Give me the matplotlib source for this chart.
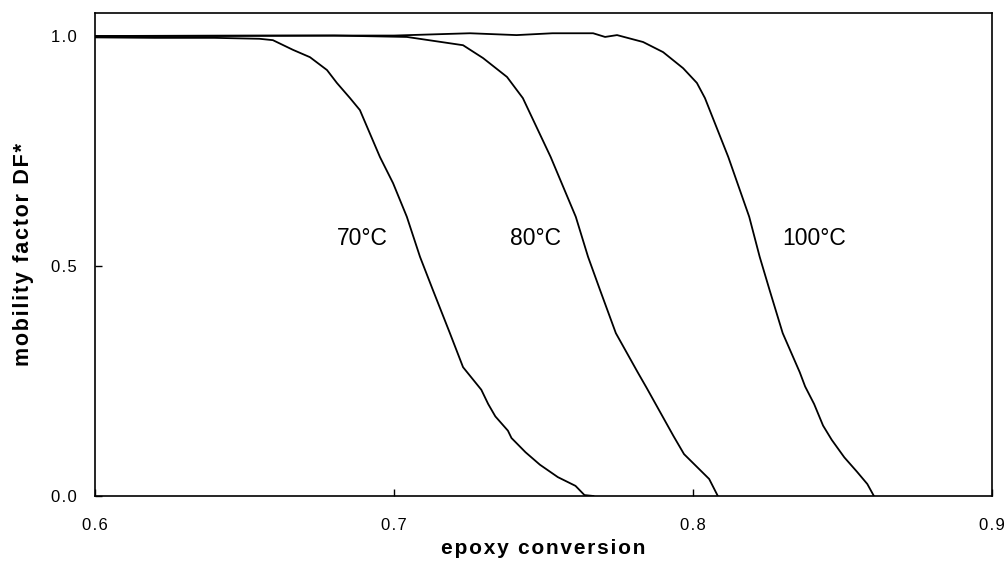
import matplotlib.pyplot as plt

plt.rcParams['font.family'] = ['Liberation Sans', 'DejaVu Sans']

# curve data (epoxy conversion, mobility factor DF*)
conv_70 = [0.600, 0.620, 0.640, 0.655, 0.6595, 0.6662, 0.6719, 0.6776, 0.6809,
           0.6853, 0.6886, 0.6953, 0.6997, 0.7043, 0.7087, 0.7130, 0.7187,
           0.7231, 0.7292, 0.7315, 0.7339, 0.7381, 0.7393, 0.7440, 0.7488,
           0.7548, 0.7607, 0.7637, 0.7667]
df_70 = [0.997, 0.996, 0.996, 0.994, 0.991, 0.970, 0.954, 0.926, 0.898,
         0.865, 0.839, 0.737, 0.680, 0.607, 0.520, 0.448, 0.354,
         0.280, 0.231, 0.200, 0.173, 0.142, 0.126, 0.095, 0.068,
         0.041, 0.022, 0.002, 0.0]

conv_80 = [0.600, 0.640, 0.680, 0.7043, 0.7231, 0.7298, 0.7378, 0.7431,
           0.7524, 0.7608, 0.7649, 0.7689, 0.7742, 0.7815, 0.7845, 0.7875,
           0.7935, 0.7970, 0.8054, 0.8083]
df_80 = [1.000, 1.000, 1.001, 0.998, 0.980, 0.952, 0.911, 0.865,
         0.737, 0.607, 0.520, 0.448, 0.354, 0.269, 0.235, 0.200,
         0.130, 0.091, 0.037, 0.0]

conv_100 = [0.600, 0.650, 0.700, 0.7254, 0.741, 0.753, 0.7666, 0.7706, 0.7746,
            0.7833, 0.7900, 0.7967, 0.8013, 0.8040, 0.8118, 0.8188, 0.8223,
            0.8256, 0.8300, 0.8357, 0.8375, 0.8405, 0.8435, 0.8464, 0.8506,
            0.8548, 0.8583, 0.8605]
df_100 = [1.000, 1.001, 1.001, 1.006, 1.002, 1.006, 1.006, 0.998, 1.002,
          0.987, 0.965, 0.930, 0.898, 0.865, 0.737, 0.607, 0.520,
          0.448, 0.354, 0.269, 0.238, 0.200, 0.153, 0.122, 0.084,
          0.053, 0.026, 0.0]

labels = ["70°C", "80°C", "100°C"]
label_x = [0.681, 0.7388, 0.8298]
label_y = [0.56, 0.56, 0.56]

x_ticks = [0.6, 0.7, 0.8, 0.9]
y_ticks = [0.0, 0.5, 1.0]

HS = "\u200a"  # hair space, the original text is letter-spaced


def spaced(s):
    return HS.join(s)


fig = plt.figure(figsize=(10.06, 5.66), dpi=100)
ax = fig.add_axes([0.0944, 0.1237, 0.8917, 0.8533])

for xs, ys in [(conv_70, df_70), (conv_80, df_80), (conv_100, df_100)]:
    ax.plot(xs, ys, color='black', lw=1.3)

for txt, lx, ly in zip(labels, label_x, label_y):
    ax.text(lx, ly, txt, fontsize=16.5, ha='left', va='center')

ax.set_xlim(0.6, 0.9)
ax.set_ylim(0.0, 1.05)
ax.set_xticks(x_ticks)
ax.set_yticks(y_ticks)
ax.set_xticklabels([spaced(f"{v:.1f}") for v in x_ticks])
ax.set_yticklabels([spaced(f"{v:.1f}") for v in y_ticks])
ax.tick_params(direction='in', length=5, width=1, labelsize=12)
ax.tick_params(axis='x', pad=16)
ax.tick_params(axis='y', pad=13)
for s in ax.spines.values():
    s.set_linewidth(1.2)

ax.set_xlabel(spaced("epoxy conversion"), fontsize=15, fontweight='bold', labelpad=4)
ax.set_ylabel(spaced("mobility factor DF*"), fontsize=15.5, fontweight='bold', labelpad=12)

fig.savefig("out.png", dpi=100)
